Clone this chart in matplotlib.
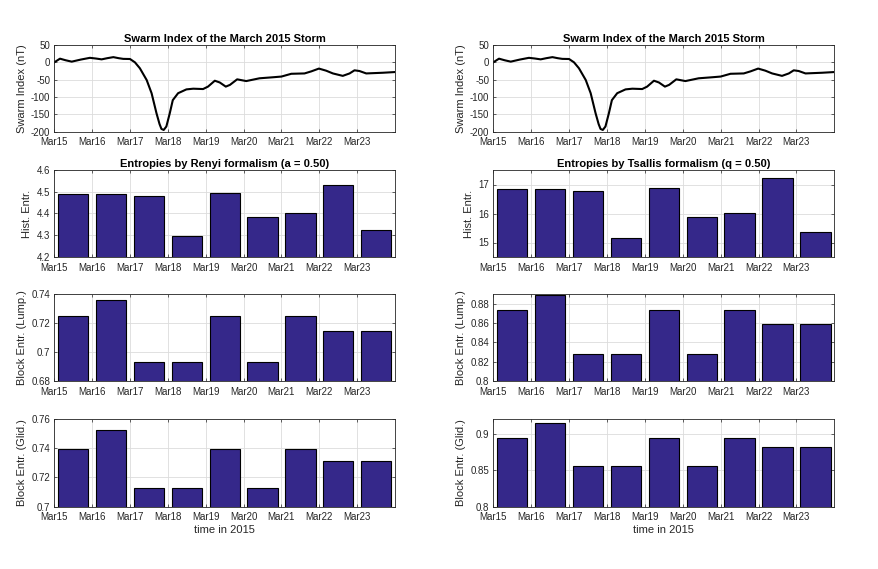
import matplotlib
matplotlib.use("Agg")
import matplotlib.pyplot as plt
import numpy as np

plt.rcParams['font.family'] = ['Liberation Sans', 'DejaVu Sans']
plt.rcParams['axes.unicode_minus'] = False

day_labels = ['Mar15', 'Mar16', 'Mar17', 'Mar18', 'Mar19', 'Mar20', 'Mar21', 'Mar22', 'Mar23']

# Swarm index (days since Mar 15 00:00, nT)
swarm_t = [0.0, 0.15, 0.30, 0.46, 0.70, 0.94, 1.10, 1.25, 1.40, 1.56, 1.70, 1.82, 2.0, 2.13, 2.26, 2.44,
           2.57, 2.70, 2.78, 2.83, 2.89, 2.96, 3.05, 3.13, 3.27, 3.49, 3.67, 3.93, 4.06, 4.24, 4.37,
           4.53, 4.64, 4.83, 5.07, 5.42, 5.78, 6.0, 6.26, 6.61, 6.79, 6.99, 7.18, 7.36, 7.62,
           7.80, 7.93, 8.06, 8.24, 8.68, 9.0]
swarm_v = [0, 10.6, 6, 2, 8, 13, 11, 8.6, 12, 15, 12, 10, 9.6, 0, -17, -51,
           -89, -147, -178, -192, -195, -185, -147, -109, -89, -78, -76, -77, -70, -53, -58,
           -70, -65, -49, -54, -46, -43, -41, -33, -32, -26, -18, -24, -32, -39,
           -32, -23, -25, -32, -30, -28]

renyi_hist = [4.489, 4.491, 4.479, 4.296, 4.493, 4.383, 4.402, 4.530, 4.324]
tsallis_hist = [16.86, 16.86, 16.76, 15.14, 16.89, 15.87, 16.03, 17.24, 15.36]
renyi_lump = [0.725, 0.7358, 0.6929, 0.6929, 0.725, 0.6929, 0.725, 0.7144, 0.7144]
tsallis_lump = [0.8738, 0.8893, 0.8276, 0.8276, 0.8738, 0.8276, 0.8738, 0.8593, 0.8593]
renyi_glid = [0.7392, 0.7527, 0.7125, 0.7125, 0.7392, 0.7125, 0.7392, 0.7315, 0.7315]
tsallis_glid = [0.8936, 0.9141, 0.8559, 0.8559, 0.8936, 0.8559, 0.8936, 0.8823, 0.8823]

bar_color = '#35288A'
W, H = 879, 569
fig = plt.figure(figsize=(W / 100, H / 100), dpi=100)

cols = [(54.3, 395.0), (493.3, 834.3)]
rows = [(45, 131.7), (170, 257), (294.3, 381), (419, 506.7)]

def make_ax(c, r):
    x0, x1 = cols[c]
    y0, y1 = rows[r]
    return fig.add_axes([x0 / W, 1 - y1 / H, (x1 - x0) / W, (y1 - y0) / H])

def style(ax, ylabel, yticks, ylim):
    ax.set_xlim(0, 9)
    ax.set_xticks(np.arange(9))
    ax.set_xticklabels(day_labels)
    ax.set_ylim(*ylim)
    ax.set_yticks(yticks)
    ax.grid(True, color='#dcdcdc', linewidth=0.6)
    ax.set_axisbelow(True)
    ax.tick_params(direction='in', length=2.5, width=0.5, labelsize=7, colors='#262626',
                   top=True, right=True)
    ax.tick_params(axis='x', pad=4)
    ax.tick_params(axis='y', pad=3)
    for s in ax.spines.values():
        s.set_color('#262626')
        s.set_linewidth(0.6)
    ax.set_ylabel(ylabel, fontsize=8, color='#262626', labelpad=3)

x = np.arange(9) + 0.5
for c in range(2):
    ax = make_ax(c, 0)
    ax.plot(swarm_t, swarm_v, color='black', linewidth=1.5)
    style(ax, 'Swarm Index (nT)', [-200, -150, -100, -50, 0, 50], (-200, 50))
    ax.set_yticklabels(['-200', '-150', '-100', '-50', '0', '50'])
    ax.set_title('Swarm Index of the March 2015 Storm', fontsize=8, fontweight='bold', pad=2)

panels = [
    (0, 1, renyi_hist, 'Hist. Entr.', [4.2, 4.3, 4.4, 4.5, 4.6], (4.2, 4.6), ['4.2', '4.3', '4.4', '4.5', '4.6'],
     'Entropies by Renyi formalism (a = 0.50)'),
    (1, 1, tsallis_hist, 'Hist. Entr.', [15, 16, 17], (14.5, 17.5), ['15', '16', '17'],
     'Entropies by Tsallis formalism (q = 0.50)'),
    (0, 2, renyi_lump, 'Block Entr. (Lump.)', [0.68, 0.70, 0.72, 0.74], (0.68, 0.74), ['0.68', '0.7', '0.72', '0.74'], None),
    (1, 2, tsallis_lump, 'Block Entr. (Lump.)', [0.8, 0.82, 0.84, 0.86, 0.88], (0.8, 0.89),
     ['0.8', '0.82', '0.84', '0.86', '0.88'], None),
    (0, 3, renyi_glid, 'Block Entr. (Glid.)', [0.7, 0.72, 0.74, 0.76], (0.7, 0.76), ['0.7', '0.72', '0.74', '0.76'], None),
    (1, 3, tsallis_glid, 'Block Entr. (Glid.)', [0.8, 0.85, 0.9], (0.8, 0.92), ['0.8', '0.85', '0.9'], None),
]
for c, r, vals, ylab, yt, yl, ytl, title in panels:
    ax = make_ax(c, r)
    ax.bar(x, vals, width=0.8, color=bar_color, edgecolor='black', linewidth=0.8)
    style(ax, ylab, yt, yl)
    ax.set_yticklabels(ytl)
    if title:
        ax.set_title(title, fontsize=8, fontweight='bold', pad=2)
    if r == 3:
        ax.set_xlabel('time in 2015', fontsize=8, color='#262626', labelpad=2)

fig.savefig('out.png', dpi=100)
